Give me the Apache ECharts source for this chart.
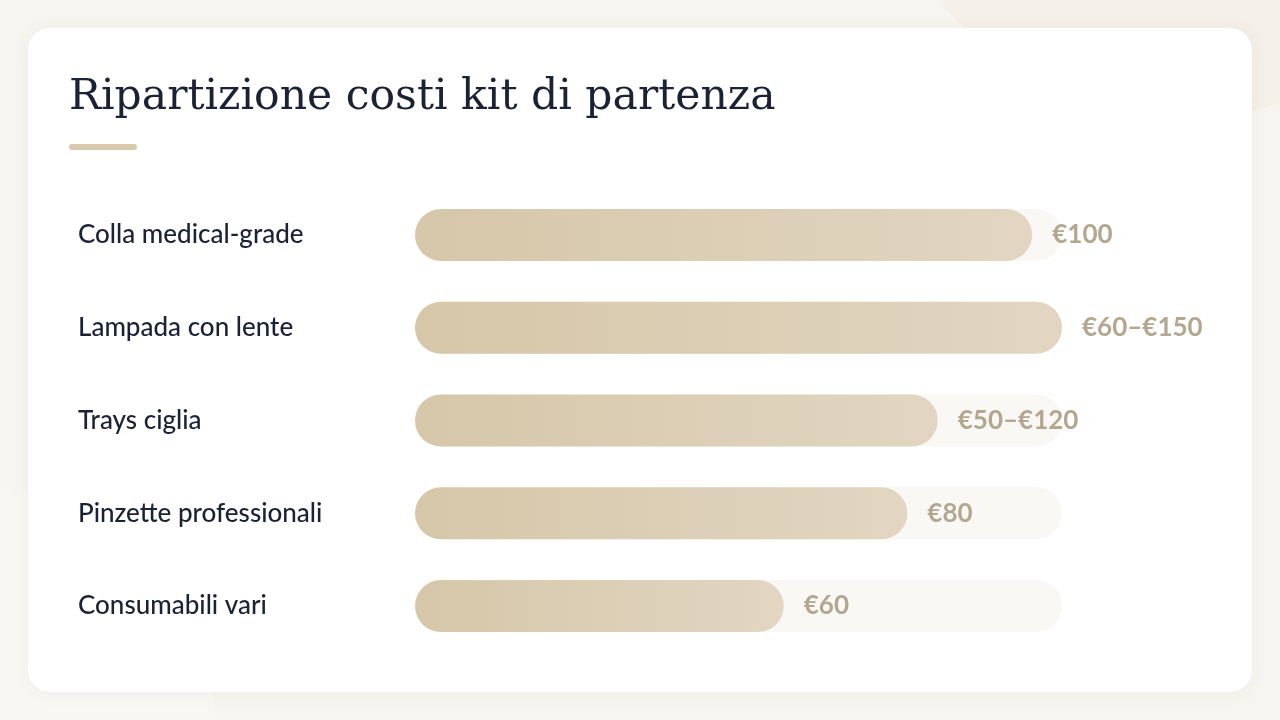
<!DOCTYPE html>
<html>
  <head>
    <meta charset="utf-8">
    <title>Ripartizione costi kit di partenza</title>
    <script src="https://cdn.jsdelivr.net/npm/echarts@6/dist/echarts.min.js"></script>
    <style>
      html, body { margin: 0; padding: 0; background: #f7f5f1; }
      #chart { width: 1280px; height: 720px; }
    </style>
  </head>
  <body>
    <div id="chart"></div>
    <script type="text/javascript">
      // data (bar length as share of the track, 0-100)
      var categories = [
        'Colla medical-grade',
        'Lampada con lente',
        'Trays ciglia',
        'Pinzette professionali',
        'Consumabili vari'
      ];
      var barShare = [95.4, 100, 80.8, 76.1, 57];
      var priceLabels = ['€100', '€60–€150', '€50–€120', '€80', '€60'];

      var chartElem = echarts.init(document.getElementById('chart'));

      var barGradient = new echarts.graphic.LinearGradient(0, 0, 1, 0, [
        { offset: 0, color: '#d6c7a9' },
        { offset: 1, color: '#e2d6c2' }
      ]);

      var option = {
        backgroundColor: '#f7f5f1',
        animation: false,
        graphic: [
          {
            type: 'circle', silent: true, z: -20,
            shape: { cx: 1180, cy: -180, r: 300 },
            style: { fill: '#f4efe9' }
          },
          {
            type: 'circle', silent: true, z: -20,
            shape: { cx: -60, cy: 760, r: 280 },
            style: { fill: '#f9f7f4' }
          },
          {
            type: 'rect', silent: true, z: -10,
            shape: { x: 28, y: 28, width: 1224, height: 664, r: 22 },
            style: {
              fill: '#ffffff',
              shadowBlur: 18,
              shadowColor: 'rgba(120, 100, 70, 0.06)',
              shadowOffsetY: 2
            }
          },
          {
            type: 'text', silent: true,
            left: 69, top: 76,
            style: {
              text: 'Ripartizione costi kit di partenza',
              font: '42.5px "DejaVu Serif", serif',
              fill: '#1b2236'
            }
          },
          {
            type: 'rect', silent: true,
            shape: { x: 69, y: 144, width: 68, height: 6, r: 3 },
            style: { fill: '#d8c9ad' }
          }
        ],
        grid: { left: 415, right: 218, top: 188.5, bottom: 67.5 },
        xAxis: {
          type: 'value', min: 0, max: 100, show: false
        },
        yAxis: {
          type: 'category',
          data: categories,
          inverse: true,
          axisLine: { show: false },
          axisTick: { show: false },
          splitLine: { show: false },
          axisLabel: {
            align: 'left',
            margin: 337,
            padding: [5, 0, 0, 0],
            color: '#1b2236',
            fontFamily: 'Lato, "Open Sans", sans-serif',
            fontSize: 26,
            fontWeight: 500
          }
        },
        series: [{
          type: 'bar',
          data: barShare,
          barWidth: 52,
          showBackground: true,
          backgroundStyle: { color: '#faf8f5', borderRadius: 26 },
          itemStyle: { color: barGradient, borderRadius: 26 },
          label: {
            show: true,
            position: 'right',
            distance: 20,
            padding: [5, 0, 0, 0],
            color: '#b3a78f',
            fontFamily: 'Lato, "Open Sans", sans-serif',
            fontSize: 26,
            fontWeight: 'bold',
            formatter: function (p) { return priceLabels[p.dataIndex]; }
          }
        }]
      };

      chartElem.setOption(option);
    </script>
  </body>
</html>
